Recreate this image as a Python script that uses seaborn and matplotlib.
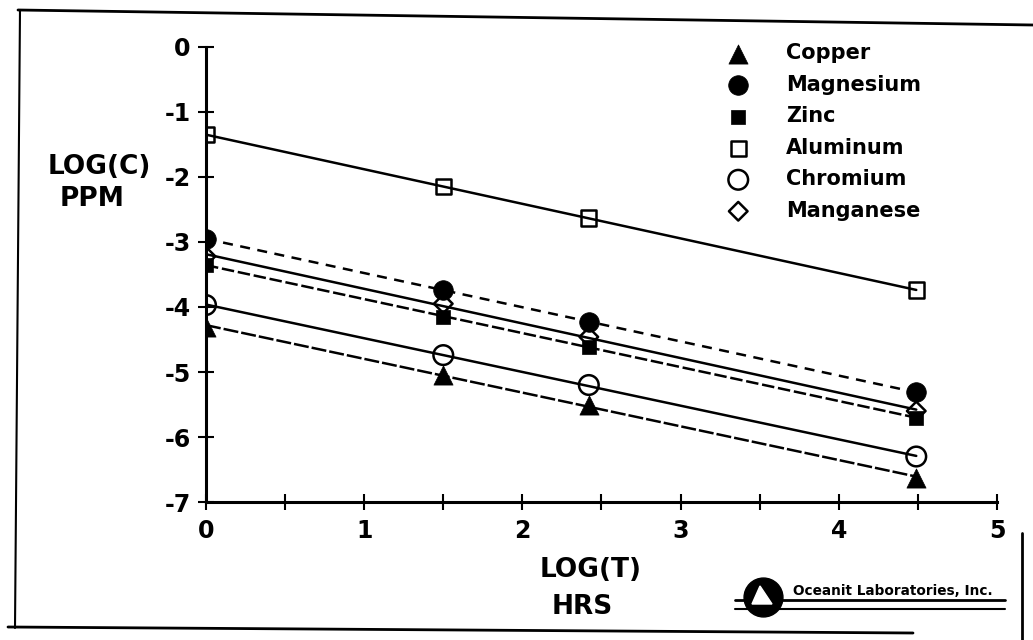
import numpy as np
import matplotlib
matplotlib.use("Agg")
import matplotlib.pyplot as plt
import seaborn as sns
from matplotlib.lines import Line2D
from matplotlib.patches import Polygon

# Data (LOG(T) hrs vs LOG(C) ppm)
log_t = [0.0, 1.5, 2.42, 4.49]
copper = [-4.3, -5.05, -5.5, -6.63]
magnesium = [-2.95, -3.74, -4.23, -5.31]
zinc = [-3.35, -4.15, -4.62, -5.7]
aluminum = [-1.35, -2.15, -2.63, -3.74]
chromium = [-3.97, -4.74, -5.2, -6.3]
manganese = [-3.22, -3.95, -4.46, -5.6]

metals = ['Copper', 'Magnesium', 'Zinc', 'Aluminum', 'Chromium', 'Manganese']
series = [copper, magnesium, zinc, aluminum, chromium, manganese]

sns.set_style("ticks")
plt.rcParams['font.family'] = ['DejaVu Sans']
plt.rcParams['font.weight'] = 'bold'
plt.rcParams['axes.unicode_minus'] = False
for k in ['text.color', 'axes.labelcolor', 'xtick.color', 'ytick.color', 'axes.edgecolor']:
    plt.rcParams[k] = 'black'

fig = plt.figure(figsize=(10.33, 6.4), dpi=100)
ax = fig.add_axes([0.1994, 0.2156, 0.7657, 0.711])

# marker styles and line styles per metal
styles = {
    'Copper':    dict(marker='^', s=190, fill=True, ls=(0, (6, 1.2))),
    'Magnesium': dict(marker='o', s=200, fill=True, ls=(0, (4, 3))),
    'Zinc':      dict(marker='s', s=110, fill=True, ls=(0, (5, 1.5))),
    'Aluminum':  dict(marker='s', s=120, fill=False, ls='-'),
    'Chromium':  dict(marker='o', s=200, fill=False, ls='-'),
    'Manganese': dict(marker='D', s=90, fill=False, ls='-'),
}

for name, vals in zip(metals, series):
    st = styles[name]
    # fitted line through each metal's points
    sns.regplot(x=log_t, y=vals, ci=None, scatter=False, ax=ax, color='black',
                truncate=True, line_kws=dict(lw=1.8, linestyle=st['ls'], zorder=2))
    if st['fill']:
        sns.scatterplot(x=log_t, y=vals, marker=st['marker'], s=st['s'], color='black',
                        edgecolor='black', linewidth=0.5, ax=ax, label=name, zorder=3)
    else:
        sns.scatterplot(x=log_t, y=vals, marker=st['marker'], s=st['s'], facecolor='none',
                        edgecolor='black', linewidth=1.8, ax=ax, label=name, zorder=3)

ax.set_xlim(0, 5)
ax.set_ylim(-7, 0)
ax.set_xticks([0, 1, 2, 3, 4, 5])
ax.set_xticks(np.arange(0.5, 5, 1.0), minor=True)
ax.set_yticks(range(-7, 1))
ax.tick_params(axis='both', which='both', direction='inout', length=12, width=1.5,
               labelsize=17, color='black', labelcolor='black')
ax.tick_params(axis='x', pad=6)
ax.tick_params(axis='y', pad=5)
for lab in ax.get_xticklabels() + ax.get_yticklabels():
    lab.set_fontweight('bold')
sns.despine(ax=ax)
for sp in ['left', 'bottom']:
    ax.spines[sp].set_linewidth(2.2)
ax.set_xlabel('')
ax.set_ylabel('')

handles, labels = ax.get_legend_handles_labels()
leg = ax.legend(handles, labels, loc='upper left', bbox_to_anchor=(707 / 1033, 1 - 33 / 640),
                bbox_transform=fig.transFigure, frameon=False, fontsize=15,
                labelspacing=0.55, handletextpad=1.3, borderpad=0)
for t in leg.get_texts():
    t.set_fontweight('bold')

# axis titles
fig.text(48 / 1033, 1 - 167 / 640, 'LOG(C)', fontsize=19, fontweight='bold', va='center', ha='left')
fig.text(60 / 1033, 1 - 199 / 640, 'PPM', fontsize=19, fontweight='bold', va='center', ha='left')
fig.text(591 / 1033, 1 - 570 / 640, 'LOG(T)', fontsize=19, fontweight='bold', va='center', ha='center')
fig.text(582 / 1033, 1 - 607 / 640, 'HRS', fontsize=19, fontweight='bold', va='center', ha='center')

# scanned page frame
ft = fig.transFigure
fig.add_artist(Line2D([18 / 1033, 1.0], [1 - 10 / 640, 1 - 25 / 640], transform=ft, color='black', lw=2))
fig.add_artist(Line2D([15 / 1033, 20 / 1033], [1 - 628 / 640, 1 - 10 / 640], transform=ft, color='black', lw=1.5))
fig.add_artist(Line2D([8 / 1033, 913 / 1033], [1 - 627 / 640, 1 - 633 / 640], transform=ft, color='black', lw=2))
fig.add_artist(Line2D([1022 / 1033, 1022 / 1033], [1 - 533 / 640, 0], transform=ft, color='black', lw=2))

# Oceanit logo
fig.add_artist(Line2D([735 / 1033, 1005 / 1033], [1 - 600 / 640, 1 - 600 / 640], transform=ft, color='black', lw=2))
fig.add_artist(Line2D([735 / 1033, 1005 / 1033], [1 - 609 / 640, 1 - 609 / 640], transform=ft, color='black', lw=1.5))
fig.add_artist(Line2D([763 / 1033], [1 - 597 / 640], transform=ft, marker='o', markersize=28,
                      color='black', linestyle='none', zorder=4))
fig.add_artist(Polygon([(752 / 1033, 1 - 604 / 640), (760 / 1033, 1 - 586 / 640), (772 / 1033, 1 - 604 / 640)],
                       closed=True, transform=ft, color='white', zorder=5))
fig.text(793 / 1033, 1 - 598 / 640, 'Oceanit Laboratories, Inc.', fontsize=9.8, fontweight='bold',
         va='bottom', ha='left')

fig.savefig('out.png', dpi=100)
